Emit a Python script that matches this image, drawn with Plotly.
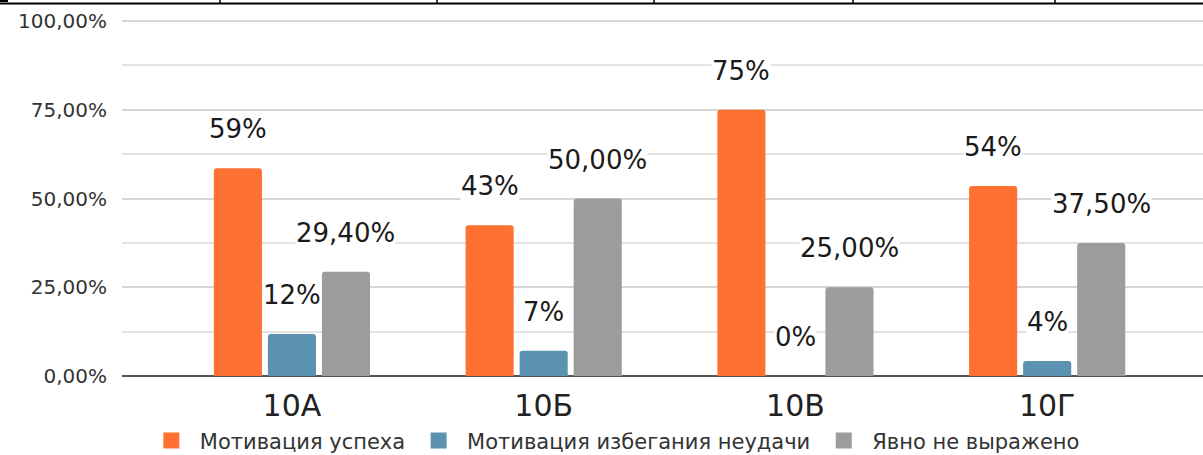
import plotly.graph_objects as go

categories = ["10А", "10Б", "10В", "10Г"]
series_names = ["Мотивация успеха", "Мотивация избегания неудачи", "Явно не выражено"]
success = [0.585, 0.425, 0.75, 0.535]
avoidance = [0.118, 0.071, 0.0, 0.042]
unexpressed = [0.294, 0.50, 0.25, 0.375]
success_labels = ["59%", "43%", "75%", "54%"]
avoidance_labels = ["12%", "7%", "0%", "4%"]
unexpressed_labels = ["29,40%", "50,00%", "25,00%", "37,50%"]
y_ticks = [0, 0.25, 0.5, 0.75, 1.0]

colors = ["#FF7033", "#5A92B0", "#9C9C9C"]
values = [success, avoidance, unexpressed]
labels = [success_labels, avoidance_labels, unexpressed_labels]

W, H = 1203, 455
ML, MR, MT, MB = 122, 0, 20, 79
PW = W - ML - MR
PH = H - MT - MB

fig = go.Figure()
for name, vals, col in zip(series_names, values, colors):
    fig.add_trace(go.Bar(
        name=name, x=categories, y=vals, showlegend=False,
        marker=dict(color=col, line=dict(width=0), cornerradius=3),
    ))
# legend entries with larger square swatches
for name, col in zip(series_names, colors):
    fig.add_trace(go.Scatter(
        name=name, x=[None], y=[None], mode="markers", showlegend=True,
        marker=dict(symbol="square", size=19, color=col),
    ))

# data labels placed above the bars
shifts = [-54, 0, 54]
annotations = []
for vals, labs, dx in zip(values, labels, shifts):
    for c, v, t in zip(categories, vals, labs):
        annotations.append(dict(
            x=c, y=v, xref="x", yref="y", text=t, showarrow=False,
            xshift=dx, yshift=39, yanchor="middle",
            font=dict(family="DejaVu Sans", size=26, color="#1a1a1a"),
            bgcolor="white", borderpad=0,
        ))

# top border artifact (table edge) in pixel-derived paper coords
def px(xp):
    return (xp - ML) / PW

def py(yp):
    return (H - MB - yp) / PH

shapes = [dict(type="line", xref="paper", yref="paper",
               x0=px(0), x1=px(W), y0=py(3.5), y1=py(3.5),
               line=dict(color="#000000", width=2))]
for xv in [220, 437, 654, 853, 1055]:
    shapes.append(dict(type="line", xref="paper", yref="paper",
                       x0=px(xv), x1=px(xv), y0=py(0), y1=py(3.5),
                       line=dict(color="#000000", width=1.5)))
shapes.append(dict(type="line", xref="paper", yref="paper",
                   x0=px(0), x1=px(8), y0=py(1), y1=py(1),
                   line=dict(color="#000000", width=2)))

fig.update_layout(
    width=W, height=H,
    margin=dict(l=ML, r=MR, t=MT, b=MB, pad=0, autoexpand=False),
    paper_bgcolor="white", plot_bgcolor="white",
    barmode="group", bargap=0.356, bargroupgap=0.11,
    separators=", ",
    showlegend=True,
    legend=dict(orientation="h", x=0.455, xanchor="center", y=-0.182, yanchor="middle",
                font=dict(family="DejaVu Sans", size=21, color="#333333"),
                itemwidth=47, traceorder="normal"),
    annotations=annotations,
    shapes=shapes,
    xaxis=dict(range=[-0.675, 3.619], showgrid=False, showline=False, zeroline=False,
               automargin=False,
               ticks="", tickfont=dict(family="DejaVu Sans", size=30, color="#222222"),
               ticklabelstandoff=9),
    yaxis=dict(range=[0, 1.003], tickvals=y_ticks, tickformat=".2%", automargin=False,
               showgrid=True, gridcolor="#D6D6D6", gridwidth=2,
               minor=dict(dtick=0.125, tick0=0, showgrid=True, gridcolor="#E3E3E3", gridwidth=2),
               zeroline=True, zerolinecolor="#555555", zerolinewidth=2,
               showline=False, ticks="", ticklabelstandoff=14,
               tickfont=dict(family="DejaVu Sans", size=20, color="#333333")),
)

fig.write_html("out.html", config={"displayModeBar": False},
               post_script="document.body.style.margin='0';document.body.style.padding='0';")
